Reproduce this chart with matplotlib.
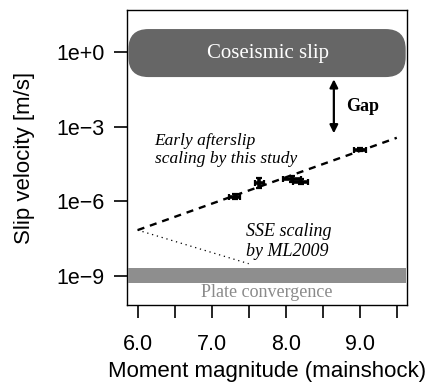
import matplotlib
matplotlib.use("Agg")
import matplotlib.pyplot as plt
from matplotlib.patches import FancyBboxPatch

# afterslip points (Mw, log10 slip velocity, errors)
mw = [7.31, 7.64, 8.08, 8.20, 9.00]
logv = [-5.81, -5.27, -5.10, -5.20, -3.93]
mw_err = [0.07, 0.06, 0.12, 0.10, 0.08]
logv_err = [0.10, 0.20, 0.12, 0.10, 0.06]

# scaling lines
fit_mw = [6.0, 9.5]
fit_logv = [-7.15, -3.44]
sse_mw = [6.0, 7.5]
sse_logv = [-7.15, -8.50]

xticks_major = [6.0, 7.0, 8.0, 9.0]
xticks_minor = [6.5, 7.5, 8.5, 9.5]
yticks = [0, -3, -6, -9]
ytick_labels = ["1e+0", "1e\u22123", "1e\u22126", "1e\u22129"]

serif = "Liberation Serif"
plt.rcParams['font.family'] = ['Liberation Sans', 'DejaVu Sans']

fig = plt.figure(figsize=(4.3, 3.9), dpi=100)
ax = fig.add_axes([0.296, 0.218, 0.65, 0.756])
ax.set_yscale('log')
ax.set_xlim(5.86, 9.635)
ax.set_ylim(10 ** -10.16, 10 ** 1.69)

# overlay axes in log10 units for the drawn elements
ax2 = fig.add_axes(ax.get_position(), frameon=False)
ax2.set_xlim(ax.get_xlim())
ax2.set_ylim(-10.16, 1.69)
ax2.set_xticks([])
ax2.set_yticks([])

# coseismic slip band (rounded box)
lo, hi = -1.0, 0.93
box = FancyBboxPatch((5.875, lo), 9.62 - 5.875, hi - lo,
                     boxstyle="round,pad=0,rounding_size=0.27",
                     facecolor='#666666', edgecolor='none',
                     mutation_aspect=2.98)
ax2.add_patch(box)
ax2.text(7.76, -0.04, "Coseismic slip", color='white', fontsize=15,
         family=serif, ha='center', va='center')

# plate convergence band
ax2.axhspan(-9.27, -8.67, xmin=0.004, xmax=0.996, color='#8e8e8e', lw=0)
ax2.text(7.75, -9.64, "Plate convergence", color='#8a8a8a', fontsize=13,
         family=serif, ha='center', va='center')

# gap arrow
ax2.annotate("", xy=(8.65, -1.09), xytext=(8.65, -3.26),
             arrowprops=dict(arrowstyle='<|-|>', color='black', lw=1.6,
                             mutation_scale=12, shrinkA=0, shrinkB=0))
ax2.text(8.82, -2.2, "Gap", fontsize=13, fontweight='bold', family=serif,
         ha='left', va='center')

# scaling lines
ax2.plot(fit_mw, fit_logv, color='black', lw=1.7, ls=(0, (3, 2.5)))
ax2.plot(sse_mw, sse_logv, color='black', lw=0.9, ls=(0, (1, 3)))

# data points
ax2.errorbar(mw, logv, xerr=mw_err, yerr=logv_err, fmt='none',
             ecolor='black', elinewidth=2.6, capsize=2.5, capthick=1.6)

ax2.text(6.23, -3.93, "Early afterslip\nscaling by this study", fontsize=12.5,
         family=serif, style='italic', ha='left', va='center', linespacing=1.2)
ax2.text(7.47, -7.6, "SSE scaling\nby ML2009", fontsize=13,
         family=serif, style='italic', ha='left', va='center', linespacing=1.25)

# main axes ticks
ax.set_xticks(xticks_major)
ax.set_xticklabels(["6.0", "7.0", "8.0", "9.0"])
ax.set_xticks(xticks_minor, minor=True)
ax.set_yticks([10.0 ** t for t in yticks])
ax.set_yticklabels(ytick_labels)
ax.yaxis.set_minor_locator(matplotlib.ticker.NullLocator())
ax.tick_params(axis='x', which='both', length=9, width=1.2, labelsize=15.5, pad=12)
ax.tick_params(axis='y', length=9.5, width=1.2, labelsize=15.5, pad=7)
for s in ax.spines.values():
    s.set_linewidth(1.0)
ax.set_xlabel("Moment magnitude (mainshock)", fontsize=16, labelpad=4)
ax.set_ylabel("Slip velocity [m/s]", fontsize=16, labelpad=15)

fig.savefig("out.png", dpi=100)
